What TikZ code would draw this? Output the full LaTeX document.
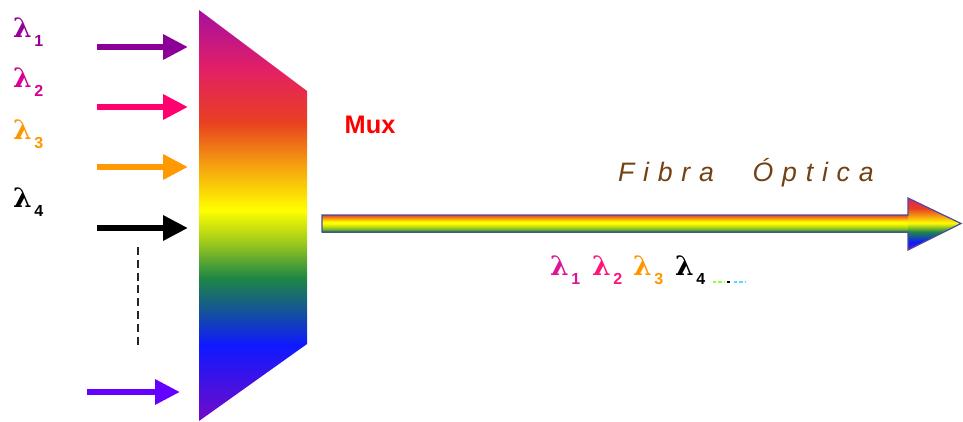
\documentclass[tikz,border=0pt]{standalone}
\usepackage{fontspec}
\setmainfont{Liberation Sans}
\newfontfamily\lamfont{DejaVu Serif}
\newfontfamily\fibrafont[LetterSpace=33]{Liberation Sans}
\usetikzlibrary{arrows.meta}

\definecolor{cpurtop}{RGB}{165,15,160}
\definecolor{cpink}{RGB}{228,32,100}
\definecolor{credor}{RGB}{232,64,32}
\definecolor{corange}{RGB}{245,160,15}
\definecolor{cyellow}{RGB}{255,255,0}
\definecolor{cyg}{RGB}{165,205,25}
\definecolor{cgreen}{RGB}{30,135,70}
\definecolor{cteal}{RGB}{20,85,150}
\definecolor{cblue}{RGB}{15,25,255}
\definecolor{cpurbot}{RGB}{115,10,200}
\definecolor{outl}{RGB}{75,75,160}

\definecolor{lone}{RGB}{150,0,150}
\definecolor{ltwo}{RGB}{215,0,145}
\definecolor{lthree}{RGB}{255,150,0}
\definecolor{bone}{RGB}{220,20,150}
\definecolor{btwo}{RGB}{255,20,120}
\definecolor{aone}{RGB}{140,0,150}
\definecolor{atwo}{RGB}{255,0,110}
\definecolor{athree}{RGB}{255,153,0}
\definecolor{afive}{RGB}{100,0,255}
\definecolor{muxred}{RGB}{255,0,0}
\definecolor{brown}{RGB}{115,65,20}
\definecolor{dgreen}{RGB}{150,255,60}
\definecolor{dcyan}{RGB}{80,220,255}

\pgfdeclareverticalshading{muxshade}{100bp}{%
color(0bp)=(cpurbot); color(25bp)=(cpurbot); color(34.25bp)=(cblue);
color(38.5bp)=(cteal); color(42.4bp)=(cgreen); color(47bp)=(cyg);
color(50.65bp)=(cyellow); color(56.15bp)=(corange); color(61.35bp)=(credor);
color(67.7bp)=(cpink); color(75bp)=(cpurtop); color(100bp)=(cpurtop)}

\pgfdeclareverticalshading{fibershaft}{100bp}{%
color(0bp)=(cgreen); color(25bp)=(cgreen); color(37.5bp)=(cyg);
color(50bp)=(cyellow); color(55bp)=(cyellow); color(65bp)=(corange);
color(75bp)=(credor); color(100bp)=(credor)}

\pgfdeclareverticalshading{fiberhead}{100bp}{%
color(0bp)=(cpurbot); color(25bp)=(cpurbot); color(32.5bp)=(cblue);
color(42.5bp)=(cgreen); color(51bp)=(cyellow); color(57.5bp)=(corange);
color(65bp)=(credor); color(75bp)=(cpink); color(100bp)=(cpink)}

\newcommand\wlab[1]{{\lamfont\bfseries\fontsize{20}{20}\selectfont λ}\kern2pt\raisebox{-6.75pt}{\fontsize{12}{12}\selectfont\bfseries #1}}

\tikzset{
  inarrow/.style={line width=5pt,-{Triangle[length=18.75pt,width=18pt]}},
  wlabel/.style={anchor=base west,inner sep=0pt,outer sep=0pt},
}

\begin{document}
\begin{tikzpicture}[x=0.75pt,y=-0.75pt]
\useasboundingbox (0,0) rectangle (963,421);

% Mux trapezoid
\shade[shading=muxshade] (199,10) -- (307,91) -- (307,344) -- (199,421) -- cycle;

% input arrows
\coordinate (s1) at (97,47);  \coordinate (e1) at (188,47);
\coordinate (s2) at (97,107); \coordinate (e2) at (188,107);
\coordinate (s3) at (97,167); \coordinate (e3) at (188,167);
\coordinate (s4) at (97,228); \coordinate (e4) at (188,228);
\coordinate (s5) at (87,392); \coordinate (e5) at (180,392);
\draw[inarrow,aone] (s1) -- (e1);
\draw[inarrow,atwo] (s2) -- (e2);
\draw[inarrow,athree] (s3) -- (e3);
\draw[inarrow,black] (s4) -- (e4);
\draw[inarrow,afive] (s5) -- (e5);

% dashed ellipsis line
\coordinate (d1) at (138,247); \coordinate (d2) at (138,347);
\draw[line width=1.6pt,black!85,dash pattern=on 6pt off 3.6pt] (d1) -- (d2);

% input labels
\node[wlabel,text=lone]   (l1) at (13,37)  {\wlab{1}};
\node[wlabel,text=ltwo]   (l2) at (13,87)  {\wlab{2}};
\node[wlabel,text=lthree] (l3) at (13,139) {\wlab{3}};
\node[wlabel,text=black]  (l4) at (13,207) {\wlab{4}};

% Mux label
\node[text=muxred,font=\bfseries\fontsize{19}{19}\selectfont] (muxlabel) at (370,125) {Mux};

% fibre arrow
\shade[shading=fibershaft] (322,215) rectangle (909,232);
\shade[shading=fiberhead] (908,198) -- (961,223.5) -- (908,250) -- cycle;
\draw[outl,line width=0.9pt,line join=miter] (322,215) -- (908,215) -- (908,198) -- (961,223.5) -- (908,250) -- (908,232) -- (322,232) -- cycle;

% Fibra Optica label
\node[wlabel,text=brown,font=\fibrafont\itshape\fontsize{20}{20}\selectfont] (fibra) at (618,181) {Fibra\hspace{29pt}Óptica};

% output labels
\node[wlabel,text=bone]   (o1) at (550,275) {\wlab{1}};
\node[wlabel,text=btwo]   (o2) at (592,275) {\wlab{2}};
\node[wlabel,text=lthree] (o3) at (633,275) {\wlab{3}};
\node[wlabel,text=black]  (o4) at (675,275) {\wlab{4}};
\coordinate (g1) at (713,282); \coordinate (g2) at (724,282);
\coordinate (k1) at (727,282); \coordinate (k2) at (732,282);
\coordinate (c1) at (734,282); \coordinate (c2) at (745,282);
\draw[dgreen,line width=1pt,dash pattern=on 2.5pt off 1.5pt] (g1) -- (g2);
\draw[black,line width=1pt,dash pattern=on 2.5pt off 1.5pt] (k1) -- (k2);
\draw[dcyan,line width=1pt,dash pattern=on 2.5pt off 1.5pt] (c1) -- (c2);
\end{tikzpicture}
\end{document}
